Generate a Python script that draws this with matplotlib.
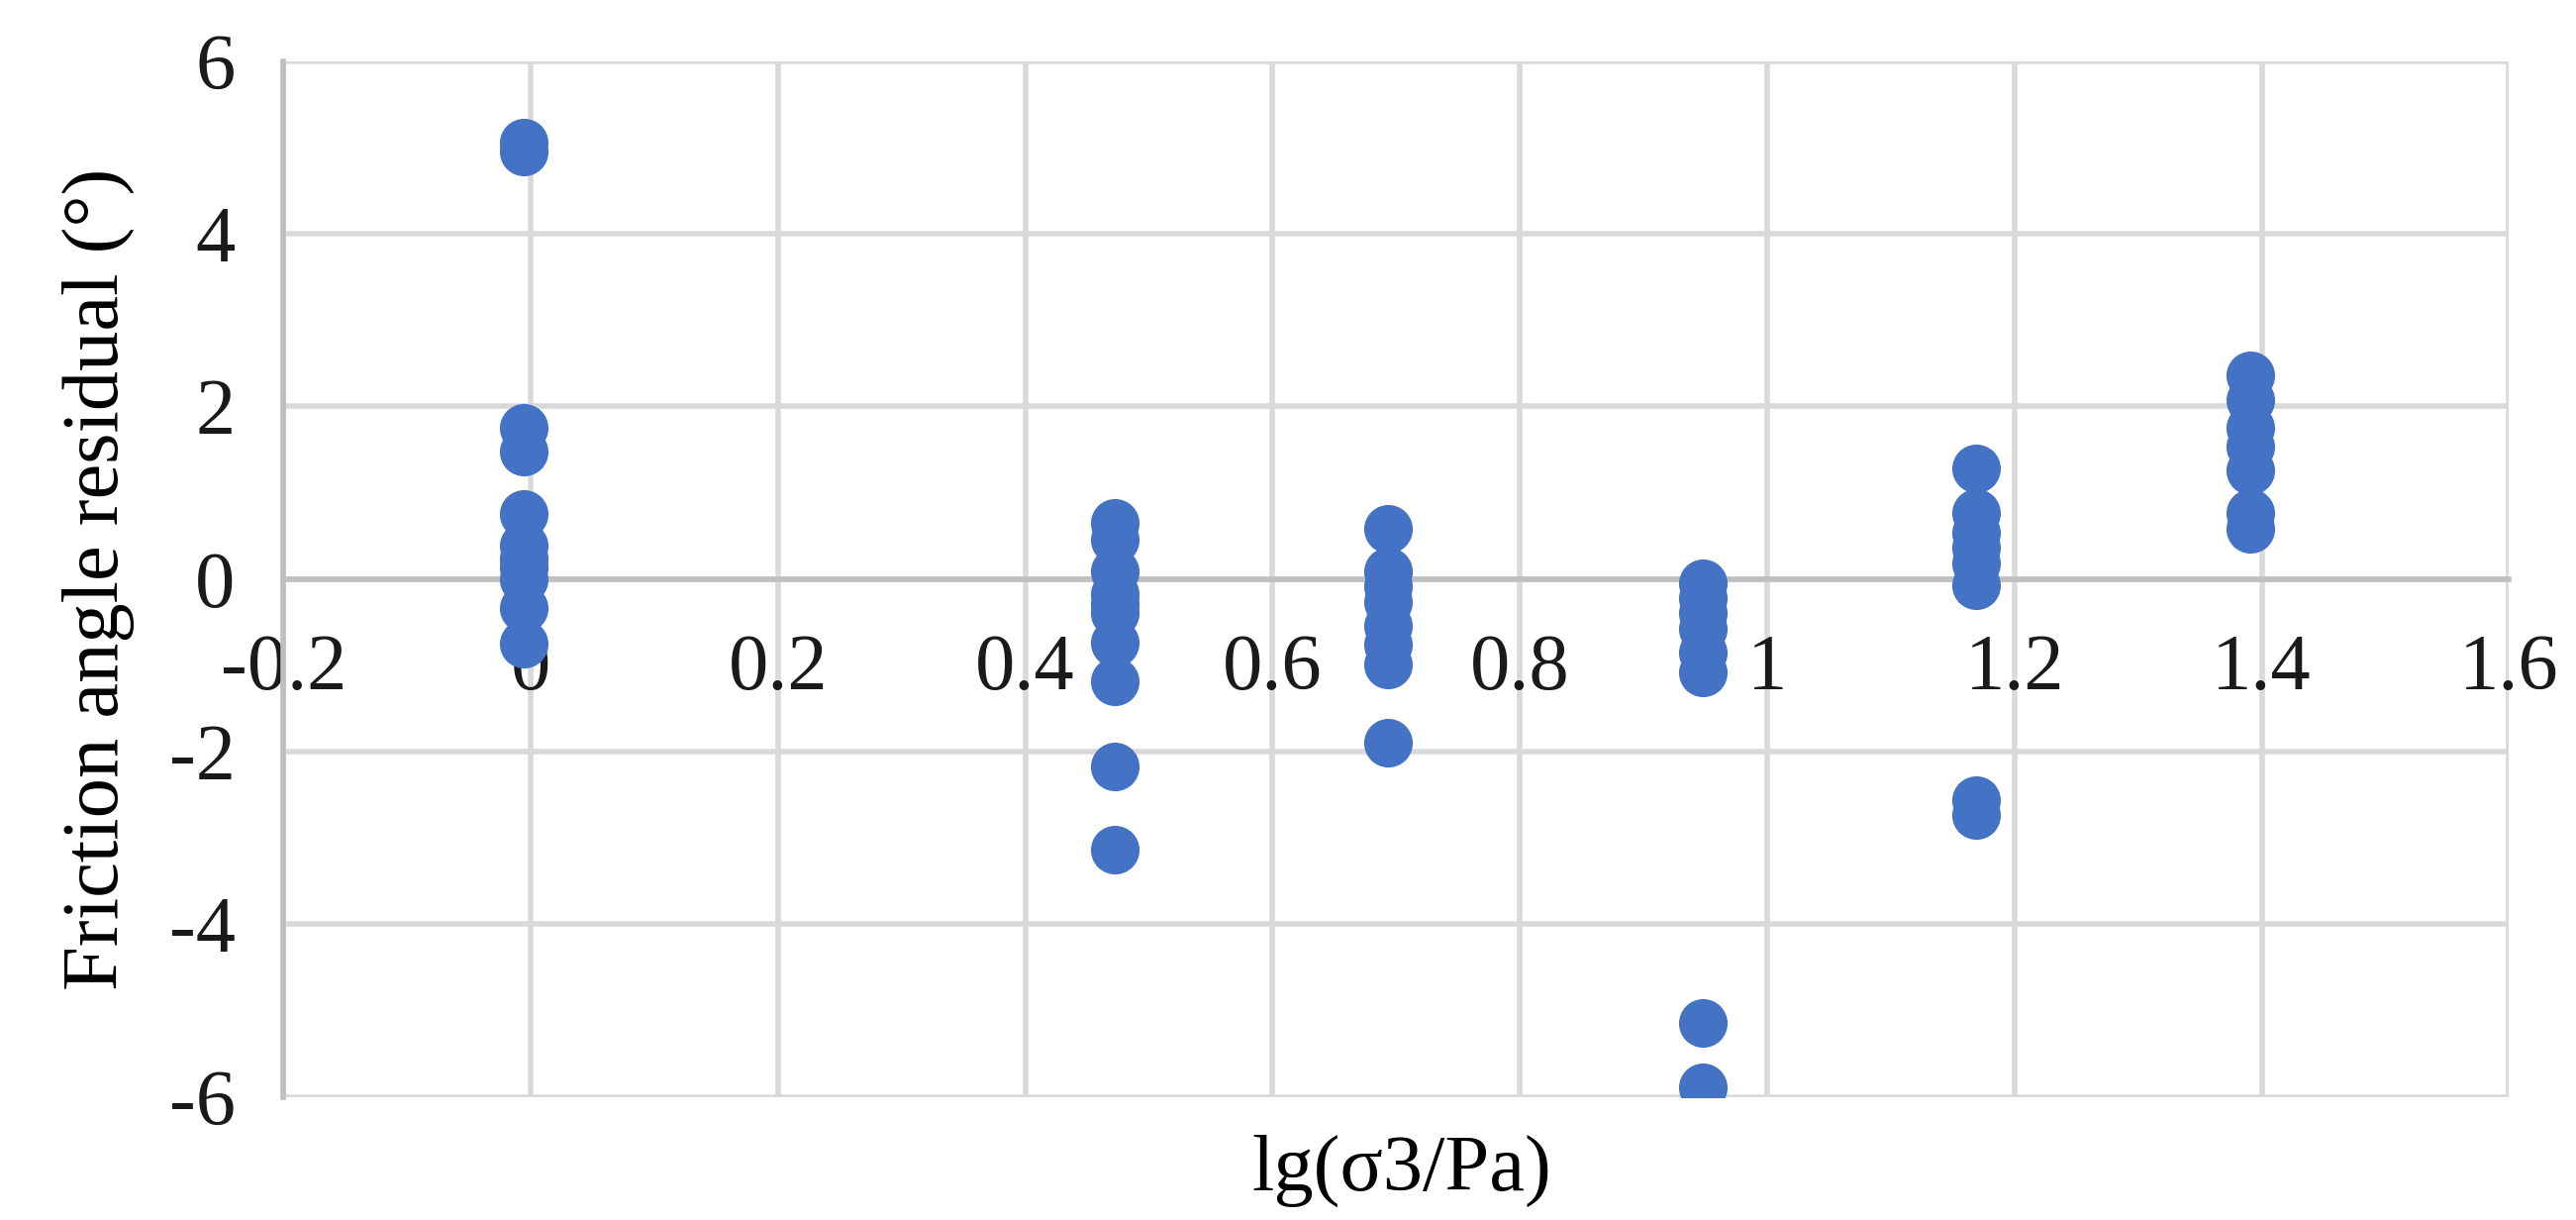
import matplotlib
matplotlib.use("Agg")
import matplotlib.pyplot as plt

# lg(sigma3/Pa) levels and friction angle residuals
x_levels = [-0.006, 0.472, 0.693, 0.948, 1.169, 1.391]
res_0 = [5.05, 4.95, 1.75, 1.47, 0.75, 0.39, 0.24, 0.13, 0.0, -0.34, -0.75]
res_1 = [0.65, 0.45, 0.09, -0.18, -0.29, -0.40, -0.74, -1.19, -2.17, -3.14]
res_2 = [0.58, 0.09, -0.09, -0.27, -0.54, -0.76, -0.99, -1.90]
res_3 = [-0.05, -0.22, -0.40, -0.58, -0.85, -1.08, -5.14, -5.89]
res_4 = [1.28, 0.76, 0.54, 0.36, 0.18, -0.07, -2.56, -2.74]
res_5 = [2.36, 2.07, 1.75, 1.53, 1.26, 0.76, 0.58]
residuals = [res_0, res_1, res_2, res_3, res_4, res_5]

xticks = [-0.2, 0, 0.2, 0.4, 0.6, 0.8, 1, 1.2, 1.4, 1.6]
xticklabels = ["-0.2", "0", "0.2", "0.4", "0.6", "0.8", "1", "1.2", "1.4", "1.6"]
yticks = [-6, -4, -2, 0, 2, 4, 6]
yticklabels = ["-6", "-4", "-2", "0", "2", "4", "6"]

plt.rcParams["font.family"] = ["Liberation Serif", "DejaVu Serif"]

fig = plt.figure(figsize=(26.02, 12.32), dpi=100)
ax = fig.add_axes([0.110, 0.101, 0.864, 0.849])

for xv, ys in zip(x_levels, residuals):
    ax.scatter([xv] * len(ys), ys, s=1250, color="#4472c4", zorder=3, linewidths=0)

ax.set_xlim(-0.2, 1.6)
ax.set_ylim(-6, 6)
ax.set_xticks(xticks)
ax.set_xticklabels(xticklabels)
ax.set_yticks(yticks)
ax.set_yticklabels(yticklabels)
ax.grid(True, color="#d9d9d9", lw=4)
ax.set_axisbelow(True)

for s in ["top", "right"]:
    ax.spines[s].set_visible(False)
ax.spines["bottom"].set_position(("data", 0))
ax.spines["bottom"].set_color("#bfbfbf")
ax.spines["bottom"].set_linewidth(4)
ax.spines["left"].set_color("#bfbfbf")
ax.spines["left"].set_linewidth(4)
ax.tick_params(length=0, labelsize=58, colors="#1a1a1a", pad=40)
ax.tick_params(axis="y", pad=35)

ax.set_ylabel("Friction angle residual (°)", fontsize=58, labelpad=25)
fig.text(0.544, 0.04, "lg(σ3/Pa)", fontsize=58, ha="center", va="center")

fig.savefig("out.png", dpi=100)
